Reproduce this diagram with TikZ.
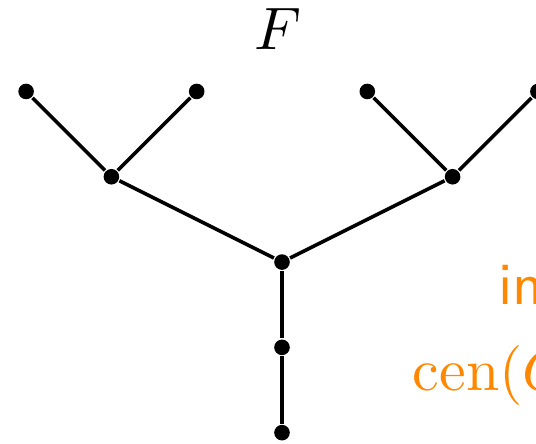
\documentclass[tikz,border=0pt]{standalone}
\usepackage{tikz}
\usetikzlibrary{positioning}
\definecolor{labelorange}{RGB}{255,136,0}

\begin{document}
\begin{tikzpicture}[
    x=0.5cm, y=0.5cm,
    vtx/.style={circle, fill=black, inner sep=0pt, minimum size=2.6pt},
    edge/.style={semithick},
    note/.style={text=labelorange, anchor=base west, inner xsep=0pt},
]
\useasboundingbox (-3.306,-2.122) rectangle (2.978,3.072);

% Title
\node[anchor=base] (title) at (-0.05, 2.49) {$F$};

% Vertices
\node[vtx] (l1) at (-3, 2) {};
\node[vtx] (l2) at (-1, 2) {};
\node[vtx] (l3) at (1, 2) {};
\node[vtx] (l4) at (3, 2) {};
\node[vtx] (a) at (-2, 1) {};
\node[vtx] (b) at (2, 1) {};
\node[vtx] (r) at (0, 0) {};
\node[vtx] (s1) at (0, -1) {};
\node[vtx] (s2) at (0, -2) {};

% Edges
\draw[edge] (l1) -- (a) -- (l2);
\draw[edge] (l3) -- (b) -- (l4);
\draw[edge] (a) -- (r) -- (b);
\draw[edge] (r) -- (s1) -- (s2);

% Annotations
\node[note] (inlabel) at (2.52, -0.50) {\textsf{in}};
\node[note] (cenlabel) at (1.52, -1.50) {$\mathrm{cen}(G)$};

\end{tikzpicture}
\end{document}
